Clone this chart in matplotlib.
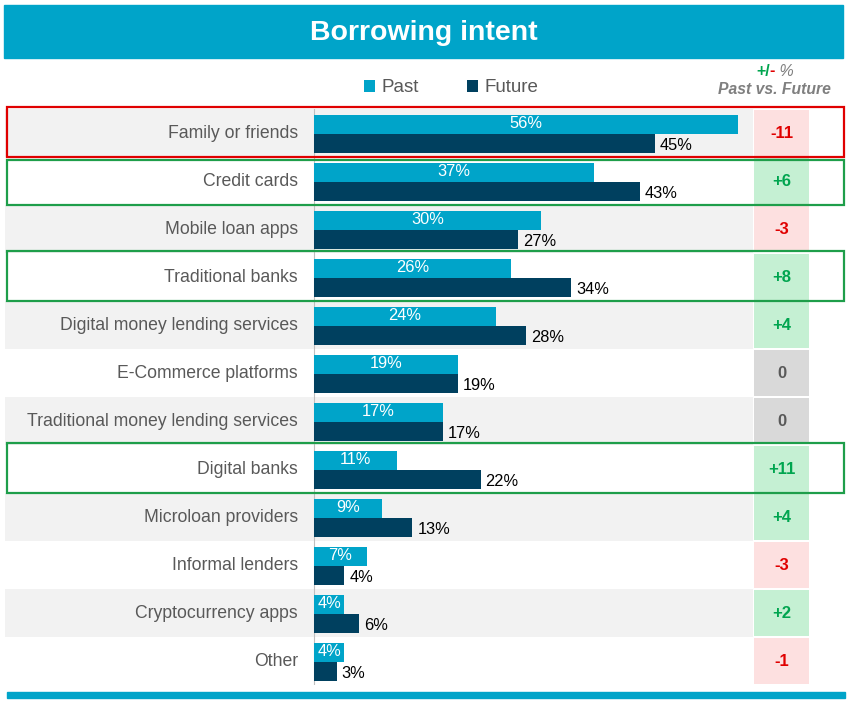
import matplotlib.pyplot as plt
from matplotlib.patches import Rectangle
import matplotlib.transforms as mtransforms

plt.rcParams['font.family'] = ['Liberation Sans', 'DejaVu Sans']

# ---------------- data ---------------- #
categories = ['Family or friends', 'Credit cards', 'Mobile loan apps', 'Traditional banks',
              'Digital money lending services', 'E-Commerce platforms',
              'Traditional money lending services', 'Digital banks', 'Microloan providers',
              'Informal lenders', 'Cryptocurrency apps', 'Other']
past = [56, 37, 30, 26, 24, 19, 17, 11, 9, 7, 4, 4]
future = [45, 43, 27, 34, 28, 19, 17, 22, 13, 4, 6, 3]
delta = [-11, 6, -3, 8, 4, 0, 0, 11, 4, -3, 2, -1]
highlight_rows = [0, 1, 3, 7]   # rows with an outline box

# ---------------- style ---------------- #
CYAN = '#00A4C9'
NAVY = '#00405F'
GREY_TXT = '#595959'
RED = '#E00000'
GREEN = '#00A54F'
W, H = 850, 702


def fx(x):
    return x / W


def fy(y):
    return 1 - y / H


fig = plt.figure(figsize=(W / 100, H / 100), dpi=100)

# title bar
fig.patches.append(Rectangle((fx(4), fy(58)), fx(839), 53 / H, transform=fig.transFigure,
                             color=CYAN, zorder=0))
fig.text(fx(424), fy(33), 'Borrowing intent', ha='center', va='center', color='white',
         fontsize=20.5, fontweight='bold')
# bottom rule
fig.patches.append(Rectangle((fx(7), fy(698)), fx(838), 6 / H, transform=fig.transFigure,
                             color=CYAN, zorder=0))

# bar axes: 0 % sits at x=314 px, 56 % at 738 px
scale = (738 - 314) / 56
top_px, bot_px = 109, 685
ax = fig.add_axes([fx(5), fy(bot_px), fx(748), (bot_px - top_px) / H])
ax.set_xlim(-(314 - 5) / scale, (753 - 314) / scale)
n = len(categories)
ax.set_ylim(n - 0.5, -0.5)
ax.axis('off')

rows = list(range(n))
for i in rows[::2]:
    ax.axhspan(i - 0.5, i + 0.5, color='#F2F2F2', zorder=0, lw=0)
ax.axvline(0, color='#BFBFBF', lw=0.8, zorder=1)

bp = ax.barh([i - 0.18 for i in rows], past, height=0.4, color=CYAN, zorder=2, label='Past')
bf = ax.barh([i + 0.22 for i in rows], future, height=0.4, color=NAVY, zorder=2, label='Future')

for i in rows:
    ax.text(-16 / scale, i, categories[i], ha='right', va='center',
            color=GREY_TXT, fontsize=12.7)
    ax.text(past[i] / 2, i - 0.19, f'{past[i]}%', ha='center', va='center',
            color='white', fontsize=11.8, zorder=3)
    ax.text(future[i] + 5 / scale, i + 0.27, f'{future[i]}%', ha='left', va='center',
            color='black', fontsize=11.8, zorder=3)

# delta column
axd = fig.add_axes([fx(754), fy(bot_px), fx(55), (bot_px - top_px) / H])
axd.set_xlim(0, 1)
axd.set_ylim(n - 0.5, -0.5)
axd.axis('off')
bg = ['#FDE0E0' if d < 0 else '#C5F0D3' if d > 0 else '#D9D9D9' for d in delta]
fg = [RED if d < 0 else GREEN if d > 0 else GREY_TXT for d in delta]
axd.barh(rows, [1] * n, height=0.94, color=bg, lw=0)
for i, d in enumerate(delta):
    axd.text(0.5, i, f'{d:+d}' if d else '0', ha='center', va='center', color=fg[i],
             fontsize=12, fontweight='bold')

# outline boxes
blend = mtransforms.blended_transform_factory(fig.transFigure, ax.transData)
for i in highlight_rows:
    col = RED if delta[i] < 0 else '#1E9E4A'
    y0 = i - 0.44 if (i - 1) in highlight_rows else i - 0.55
    fig.patches.append(Rectangle((fx(7), y0), fx(837), i + 0.5 - y0, transform=blend,
                                 fill=False, ec=col, lw=1.6, zorder=5))

# legend
fig.legend(handles=[bp, bf], labels=['Past', 'Future'], loc='center',
           bbox_to_anchor=(fx(451), fy(88)), ncol=2, frameon=False, fontsize=13.5,
           handlelength=0.6, handleheight=0.6, handletextpad=0.3, columnspacing=2.6,
           labelcolor=GREY_TXT)

# delta header: "+/- %" in mixed colours, then "Past vs. Future"
first = fig.text(fx(756), fy(71), '+/', ha='left', va='center', color=GREEN,
                 fontsize=11.5, fontweight='bold')
second = ax.annotate('-', xy=(1, 0), xycoords=first, va='bottom', ha='left',
                     color=RED, fontsize=11.5, fontweight='bold', annotation_clip=False)
ax.annotate(' %', xy=(1, 0), xycoords=second, va='bottom', ha='left',
            color='#7F7F7F', fontsize=11.5, fontstyle='italic', annotation_clip=False)
fig.text(fx(774), fy(89), 'Past vs. Future', ha='center', va='center', color='#7F7F7F',
         fontsize=11.3, fontweight='bold', fontstyle='italic')

fig.savefig('out.png', dpi=100)
